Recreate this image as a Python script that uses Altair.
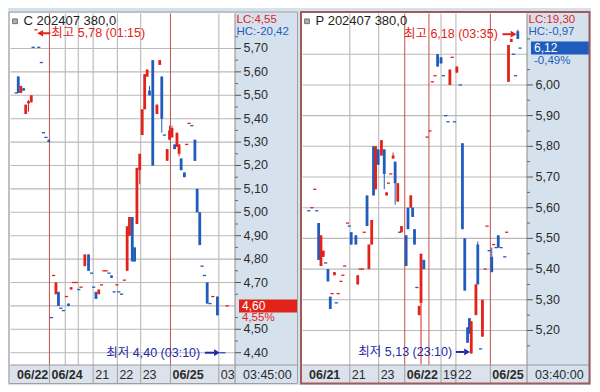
import altair as alt
import pandas as pd

# ---------------- data ----------------
# Left panel: C 202407 380,0
left_pos = [3.3, 5.5, 8.3, 11.3, 13.5, 16.5, 19.5, 21.5, 24.5, 27.5,
            30.3, 32.5, 35.3, 38.3, 41, 43.5, 46, 48.7, 51.3, 54,
            57.3, 59.5, 62.3, 65, 68, 70.5, 73, 77, 81, 84.3,
            86.5, 89, 92, 95, 97.5, 100, 103, 105.7, 108.5, 111.5,
            113.5, 116.5, 119.5, 122.5, 125, 128, 130.5, 133, 136, 138.7,
            141.3, 144, 146.5, 150, 154.5, 157.5, 159.7, 162.5, 165.5, 168,
            170.7, 173.5, 176, 178.3, 180.5, 184, 186.5, 189, 192, 195.3,
            197.7, 200.5, 203, 205.5, 208.5, 211.5, 214.5, 219.5, 223.5, 226.5,
            230]
left_open = [5.51, 5.58, 5.51, 5.53, 5.42, 5.465, 5.47, 5.705, 5.78, 5.705,
             5.64, 5.34, 5.32, 5.31, 4.55, 4.73, 4.65, 4.66, 4.59, 4.58,
             4.64, 4.61, 4.67, 4.70, 4.70, 4.67, 4.68, 4.77, 4.82, 4.74,
             4.68, 4.66, 4.65, 4.69, 4.75, 4.75, 4.74, 4.73, 4.66, 4.69,
             4.66, 4.65, 4.71, 4.75, 4.90, 4.98, 4.85, 4.95, 5.18, 5.33,
             5.44, 5.58, 5.52, 5.65, 5.42, 5.63, 5.58, 5.33, 5.22, 5.31,
             5.32, 5.29, 5.28, 5.25, 5.23, 5.17, 5.29, 5.38, 5.37, 5.31,
             5.10, 5.00, 4.77, 4.73, 4.70, 4.61, 4.64, 4.64, 4.40, 4.40,
             4.60]
left_high = [5.51, 5.58, 5.54, 5.53, 5.46, 5.48, 5.50, 5.705, 5.78, 5.705,
             5.64, 5.34, 5.32, 5.31, 4.55, 4.73, 4.70, 4.66, 4.59, 4.58,
             4.64, 4.61, 4.68, 4.70, 4.70, 4.67, 4.68, 4.82, 4.82, 4.74,
             4.68, 4.66, 4.67, 4.69, 4.75, 4.75, 4.74, 4.73, 4.66, 4.69,
             4.66, 4.65, 4.71, 4.94, 4.98, 4.98, 4.85, 5.19, 5.25, 5.44,
             5.59, 5.61, 5.54, 5.65, 5.46, 5.65, 5.58, 5.33, 5.27, 5.37,
             5.37, 5.29, 5.34, 5.29, 5.23, 5.17, 5.29, 5.38, 5.37, 5.31,
             5.10, 5.00, 4.77, 4.73, 4.70, 4.61, 4.64, 4.64, 4.40, 4.40,
             4.60]
left_low = [5.51, 5.51, 5.51, 5.52, 5.42, 5.43, 5.47, 5.705, 5.78, 5.705,
            5.64, 5.34, 5.32, 5.30, 4.55, 4.73, 4.65, 4.60, 4.59, 4.58,
            4.64, 4.60, 4.67, 4.70, 4.70, 4.67, 4.68, 4.77, 4.75, 4.74,
            4.68, 4.63, 4.65, 4.69, 4.75, 4.75, 4.74, 4.72, 4.66, 4.69,
            4.66, 4.65, 4.71, 4.75, 4.90, 4.79, 4.79, 4.95, 5.12, 5.33,
            5.44, 5.58, 5.50, 5.20, 5.42, 5.63, 5.34, 5.33, 5.22, 5.31,
            5.32, 5.27, 5.28, 5.24, 5.18, 5.15, 5.29, 5.38, 5.37, 5.22,
            5.00, 4.86, 4.77, 4.73, 4.61, 4.61, 4.64, 4.56, 4.40, 4.40,
            4.60]
left_close = [5.51, 5.51, 5.54, 5.52, 5.46, 5.475, 5.50, 5.705, 5.78, 5.705,
              5.64, 5.34, 5.32, 5.30, 4.55, 4.73, 4.70, 4.60, 4.59, 4.58,
              4.64, 4.60, 4.68, 4.70, 4.70, 4.67, 4.68, 4.82, 4.75, 4.74,
              4.68, 4.63, 4.67, 4.69, 4.75, 4.75, 4.74, 4.72, 4.66, 4.69,
              4.66, 4.65, 4.71, 4.94, 4.98, 4.79, 4.79, 5.19, 5.25, 5.44,
              5.59, 5.61, 5.50, 5.20, 5.46, 5.65, 5.40, 5.33, 5.27, 5.35,
              5.36, 5.27, 5.34, 5.29, 5.18, 5.15, 5.29, 5.38, 5.37, 5.22,
              5.00, 4.86, 4.77, 4.73, 4.61, 4.61, 4.64, 4.56, 4.40, 4.40,
              4.60]
left_dir = list("BBRBRRRBRB" "BBBBBRRBBB" "RBRRRBRRBB" "BBRRRRBBBR" "BBRRRBBRRR"
                "RRBBRRBBRR" "RBRRBBRRBB" "BBBBBBRBBB" "R")

# Right panel: P 202407 380,0
right_pos = [304, 307.3, 310.3, 312.5, 314.5, 317, 319.5, 322, 324.5, 327,
             329, 331.5, 333.5, 335.5, 338.5, 340.5, 342.5, 345.5, 347.5, 349.5,
             354.5, 356.5, 359.3, 361.7, 363.5, 366.5, 368.5, 371.5, 373.5, 375.7,
             378.5, 382, 385, 387.5, 389.5, 392, 394.5, 396.7, 399.5, 401.5,
             403.5, 408.5, 410.5, 413.5, 415.5, 417.5, 420, 422.5, 424.5, 427.5,
             431, 434, 436.7, 439.5, 442.3, 446, 448.5, 451, 453.5, 455.5,
             458, 460.5, 463, 466.7, 469, 471.5, 474.5, 476.5, 478.5, 483.5,
             485.5, 488.5, 490.5, 493.5, 495.5, 497.7, 500.5, 502.5, 505, 507.5,
             510.5, 514.5, 516.5, 518.5, 521.5, 524, 526, 528.5, 531]
right_open = [5.59, 5.60, 5.66, 5.59, 5.55, 5.41, 5.44, 5.42, 5.40, 5.31,
              5.32, 5.38, 5.29, 5.32, 5.36, 5.38, 5.41, 5.55, 5.54, 5.52,
              5.51, 5.35, 5.40, 5.40, 5.52, 5.64, 5.40, 5.48, 5.80, 5.66,
              5.79, 5.77, 5.79, 5.64, 5.68, 5.71, 5.76, 5.75, 5.62, 5.52,
              5.52, 5.51, 5.60, 5.60, 5.60, 5.53, 5.34, 5.25, 5.29, 5.43,
              5.83, 5.85, 6.01, 6.03, 6.10, 6.09, 6.03, 5.90, 5.88, 6.00,
              6.09, 5.88, 6.04, 6.00, 5.81, 5.50, 5.21, 5.24, 5.125, 5.25,
              5.48, 5.14, 5.18, 5.40, 5.54, 5.46, 5.44, 5.48, 5.47, 5.51,
              5.47, 5.44, 5.52, 6.01, 6.14, 6.10, 6.03, 6.175, 6.12]
right_high = [5.59, 5.60, 5.66, 5.59, 5.55, 5.51, 5.46, 5.42, 5.40, 5.31,
              5.32, 5.39, 5.29, 5.32, 5.36, 5.38, 5.41, 5.55, 5.54, 5.52,
              5.51, 5.38, 5.40, 5.40, 5.52, 5.64, 5.48, 5.56, 5.80, 5.80,
              5.79, 5.82, 5.79, 5.65, 5.68, 5.71, 5.78, 5.75, 5.68, 5.52,
              5.54, 5.51, 5.60, 5.64, 5.60, 5.53, 5.34, 5.28, 5.45, 5.43,
              5.83, 5.85, 6.01, 6.03, 6.10, 6.09, 6.03, 5.90, 5.88, 6.05,
              6.09, 5.88, 6.06, 6.00, 5.81, 5.50, 5.21, 5.24, 5.23, 5.35,
              5.49, 5.14, 5.30, 5.40, 5.54, 5.46, 5.47, 5.48, 5.47, 5.51,
              5.47, 5.44, 5.52, 6.13, 6.15, 6.10, 6.03, 6.18, 6.12]
right_low = [5.59, 5.60, 5.66, 5.59, 5.43, 5.41, 5.44, 5.42, 5.36, 5.27,
             5.32, 5.38, 5.29, 5.32, 5.36, 5.38, 5.41, 5.55, 5.54, 5.48,
             5.48, 5.35, 5.40, 5.40, 5.52, 5.54, 5.40, 5.48, 5.64, 5.66,
             5.74, 5.77, 5.66, 5.64, 5.68, 5.71, 5.76, 5.61, 5.62, 5.52,
             5.52, 5.41, 5.53, 5.60, 5.57, 5.48, 5.34, 5.25, 5.09, 5.40,
             5.83, 5.85, 6.01, 6.03, 6.06, 6.07, 6.03, 5.90, 5.88, 6.00,
             6.09, 5.88, 6.04, 6.00, 5.53, 5.33, 5.16, 5.19, 5.125, 5.25,
             5.35, 5.14, 5.18, 5.40, 5.54, 5.46, 5.39, 5.48, 5.47, 5.47,
             5.47, 5.44, 5.52, 6.01, 6.14, 6.10, 6.03, 6.15, 6.12]
right_close = [5.59, 5.60, 5.66, 5.59, 5.43, 5.51, 5.46, 5.42, 5.36, 5.27,
               5.32, 5.39, 5.29, 5.32, 5.36, 5.38, 5.41, 5.55, 5.54, 5.48,
               5.48, 5.38, 5.40, 5.40, 5.52, 5.54, 5.48, 5.56, 5.64, 5.80,
               5.74, 5.82, 5.71, 5.65, 5.68, 5.71, 5.77, 5.68, 5.68, 5.52,
               5.54, 5.41, 5.53, 5.64, 5.57, 5.48, 5.34, 5.28, 5.45, 5.40,
               5.83, 5.85, 6.01, 6.03, 6.06, 6.07, 6.03, 5.90, 5.88, 6.05,
               6.09, 5.88, 6.06, 6.00, 5.53, 5.33, 5.16, 5.19, 5.23, 5.35,
               5.35, 5.14, 5.30, 5.40, 5.54, 5.46, 5.39, 5.48, 5.47, 5.47,
               5.47, 5.44, 5.52, 6.13, 6.15, 6.10, 6.03, 6.15, 6.12]
right_dir = list("BRRBBRRBBB" "RRBRRRRRBB" "BRRRRBRRBR" "BRBRRRRBRB" "RBBRBBBRRB"
                 "RRRRBBBBBR" "RBRBBBBBRR" "BBRRRBBRBB" "BBRRRBBBB")

# grid / y tick values and labels
left_grid = [4.4, 4.5, 4.6, 4.7, 4.8, 4.9, 5.0, 5.1, 5.2, 5.3, 5.4, 5.5, 5.6, 5.7]
left_ticks = [4.4, 4.5, 4.7, 4.8, 4.9, 5.0, 5.1, 5.2, 5.3, 5.4, 5.5, 5.6, 5.7]
left_tick_labels = ["4,40", "4,50", "4,70", "4,80", "4,90", "5,00", "5,10", "5,20",
                    "5,30", "5,40", "5,50", "5,60", "5,70"]
left_minor = [4.45, 4.55, 4.65, 4.75, 4.85, 4.95, 5.05, 5.15, 5.25, 5.35, 5.45, 5.55, 5.65, 5.75]
right_grid = [5.2, 5.3, 5.4, 5.5, 5.6, 5.7, 5.8, 5.9, 6.0, 6.1]
right_ticks = [5.2, 5.3, 5.4, 5.5, 5.6, 5.7, 5.8, 5.9, 6.0]
right_tick_labels = ["5,20", "5,30", "5,40", "5,50", "5,60", "5,70", "5,80", "5,90", "6,00"]
right_minor = [5.15, 5.25, 5.35, 5.45, 5.55, 5.65, 5.75, 5.85, 5.95, 6.05, 6.15]

left_vgrid = [56, 70, 86, 112, 137, 221]
left_vdate = [39, 169]
left_seps = [39, 86, 112, 137, 169, 221]
left_xlab_pos = [86, 112, 137, 221]
left_xlab = ["21", "22", "23", "03"]
left_xdate_pos = [2, 39, 169]
left_xdate = ["06/22", "06/24", "06/25"]

right_vgrid = [348, 379, 446, 462]
right_vdate = [407, 433, 499]
right_seps = [348, 379, 407, 446, 462, 499]
right_xlab_pos = [348, 379, 446, 462]
right_xlab = ["21", "23", "19", "22"]
right_xdate_pos = [302, 407, 499]
right_xdate = ["06/21", "06/22", "06/25"]

# ---------------- styling ----------------
W, H = 225, 352
XB = 18
RED = "#e2231a"
BLUE = "#1f5cbc"
NAVY = "#1f2aa8"
GRID = "#b9b9b9"
DATE = "#c0504d"
AXBG = "#d6e1ee"
XBG = "#dbe2eb"
DARK = "#2b2b2b"
FONT = "Liberation Sans, Noto Sans CJK KR, sans-serif"


def one(**kw):
    return alt.Chart(pd.DataFrame({k: [v] for k, v in kw.items()}))


def panel(pos, o, h, l, c, d, x0, ylo, yhi, grid, ticks, tick_labels, minor, vgrid, vdate, seps,
          xl_pos, xl, xd_pos, xd, anns, title, lc, hc, clock, last, pct, boxcol,
          pct_dy, frame_col, frame_w):
    df = pd.DataFrame({"pos": pos, "o": o, "h": h, "l": l, "c": c, "d": d})
    xs = alt.Scale(domain=[x0, x0 + 231], nice=False, zero=False)
    ys = alt.Scale(domain=[ylo, yhi], nice=False, zero=False)
    X = lambda f: alt.X(f, type="quantitative", scale=xs, axis=None)
    Y = lambda f: alt.Y(f, type="quantitative", scale=ys, axis=None)
    col = alt.Color("d:N", scale=alt.Scale(domain=["R", "B"], range=[RED, BLUE]), legend=None)

    layers = []
    # plot background (white) and x-axis bar background
    layers.append(one(a=0).mark_rect(fill="white", opacity=1).encode(
        x=alt.value(0.01), x2=alt.value(W), y=alt.value(0.01), y2=alt.value(H)))
    layers.append(one(a=0).mark_rect(fill=XBG).encode(
        x=alt.value(0.01), x2=alt.value(W), y=alt.value(H), y2=alt.value(H + XB)))
    # horizontal grid
    layers.append(alt.Chart(pd.DataFrame({"g": grid})).mark_rule(
        color=GRID, strokeWidth=1.1).encode(
        y=Y("g"), x=alt.value(W), x2=alt.value(0.5)))
    # vertical grid
    layers.append(alt.Chart(pd.DataFrame({"p": vgrid})).mark_rule(
        color=GRID, strokeWidth=1.1).encode(
        x=X("p"), y=alt.value(0.5), y2=alt.value(H)))
    layers.append(alt.Chart(pd.DataFrame({"p": vdate})).mark_rule(color=DATE).encode(
        x=X("p"), y=alt.value(0.5), y2=alt.value(H)))
    # x bar separators and labels
    layers.append(alt.Chart(pd.DataFrame({"p": seps})).mark_rule(color="#9aa3ad").encode(
        x=X("p"), y=alt.value(H), y2=alt.value(H + XB)))
    layers.append(alt.Chart(pd.DataFrame({"p": xl_pos, "t": xl})).mark_text(
        align="left", baseline="middle", dx=2, font=FONT, fontSize=12.5, color=DARK).encode(
        x=X("p"), y=alt.value(H + XB / 2 + 0.5), text="t:N"))
    layers.append(alt.Chart(pd.DataFrame({"p": xd_pos, "t": xd})).mark_text(
        align="left", baseline="middle", dx=2, font=FONT, fontSize=12.5, fontWeight="bold",
        color=DARK).encode(x=X("p"), y=alt.value(H + XB / 2 + 0.5), text="t:N"))
    # candles
    base = alt.Chart(df)
    layers.append(base.mark_rule(strokeWidth=1, clip=True).encode(
        x=X("pos"), y=Y("l"), y2="h:Q", color=col))
    layers.append(base.transform_filter("datum.o != datum.c").mark_bar(size=2.8, clip=True).encode(
        x=X("pos"), y=Y("o"), y2="c:Q", color=col))
    layers.append(base.transform_filter("datum.o == datum.c").mark_tick(
        orient="horizontal", size=3.2, thickness=1.3, clip=True, opacity=1).encode(
        x=X("pos"), y=Y("o"), color=col))
    # high / low annotations
    for a in anns:
        s = a["side"]
        dy = a["dy"]
        adf = one(pos=a["pos"], price=a["price"], t=a["text"]).transform_calculate(
            tip=f"datum.pos + ({s}) * 1.5").transform_calculate(
            tri=f"datum.tip + ({s}) * 3", l1=f"datum.tip + ({s}) * 6",
            l2=f"datum.tip + ({s}) * {a['lend']}", tx=f"datum.tip + ({s}) * {a['toff']}")
        layers.append(adf.mark_rule(color=a["color"], strokeWidth=2, yOffset=dy).encode(
            x=X("l1"), x2="l2:Q", y=Y("price")))
        layers.append(adf.mark_point(shape="triangle-left" if s > 0 else "triangle-right",
                                     filled=True, size=45, color=a["color"], opacity=1,
                                     yOffset=dy).encode(x=X("tri"), y=Y("price")))
        layers.append(adf.mark_text(align="left" if s > 0 else "right", baseline="middle",
                                    font=FONT, fontSize=12.5, color=a["color"], dy=dy).encode(
            x=X("tx"), y=Y("price"), text="t:N"))
    # price axis on the right (domain line, ticks, labels)
    layers.append(one(a=0).mark_rule(color="#8c8c8c").encode(
        x=alt.value(W), y=alt.value(0.5), y2=alt.value(H + XB)))
    tdf = alt.Chart(pd.DataFrame({"v": ticks, "t": tick_labels}))
    layers.append(tdf.mark_rule(color="#555555").encode(
        y=Y("v"), x=alt.value(W), x2=alt.value(W + 6)))
    layers.append(tdf.mark_text(align="left", baseline="middle", font=FONT, fontSize=12.5,
                                color=DARK).encode(x=alt.value(W + 8.5), y=Y("v"), text="t:N"))
    layers.append(alt.Chart(pd.DataFrame({"m": minor})).mark_rule(color="#666666").encode(
        y=Y("m"), x=alt.value(W), x2=alt.value(W + 3)))
    layers.append(one(a=0).mark_rule(color="#9a9a9a").encode(
        x=alt.value(W + 62), x2=alt.value(0.5), y=alt.value(H)))
    layers.append(one(t=lc).mark_text(align="left", baseline="middle", font=FONT, fontSize=11.5,
                                      color=RED).encode(x=alt.value(W + 1.5), y=alt.value(6.8), text="t:N"))
    layers.append(one(t=hc).mark_text(align="left", baseline="middle", font=FONT, fontSize=11.5,
                                      color=BLUE).encode(x=alt.value(W + 1.5), y=alt.value(19.4), text="t:N"))
    layers.append(one(t=clock).mark_text(align="left", baseline="middle", font=FONT, fontSize=12.5,
                                         color=DARK).encode(x=alt.value(W + 8), y=alt.value(H + XB / 2 + 0.5), text="t:N"))
    lastdf = one(v=last, t=f"{last:.2f}".replace(".", ","), p=pct)
    layers.append(lastdf.mark_rect(color=boxcol, opacity=1, yOffset=-6.5, y2Offset=6.5).encode(
        x=alt.value(W + 4), x2=alt.value(W + 62), y=Y("v"), y2="v:Q"))
    layers.append(lastdf.mark_text(align="left", baseline="middle", font=FONT, fontSize=12,
                                   color="white").encode(x=alt.value(W + 7), y=Y("v"), text="t:N"))
    layers.append(lastdf.mark_text(align="left", baseline="middle", font=FONT, fontSize=11.5,
                                   color=boxcol, dy=pct_dy).encode(x=alt.value(W + 7), y=Y("v"), text="p:N"))
    # title
    layers.append(one(a=0).mark_square(size=22, fill="#b0b0b0", stroke="#707070", strokeWidth=1,
                                       opacity=1).encode(x=alt.value(5), y=alt.value(8.3)))
    layers.append(one(t=title).mark_text(align="left", baseline="middle", font=FONT, fontSize=13,
                                         color="#1e1e1e").encode(x=alt.value(13.6), y=alt.value(8.3), text="t:N"))
    # frame
    layers.append(one(a=0).mark_rect(fillOpacity=0, stroke=frame_col, strokeWidth=frame_w).encode(
        x=alt.value(-1), x2=alt.value(W + 62.5), y=alt.value(-1), y2=alt.value(H + XB + 0.5)))
    return alt.layer(*layers).properties(width=W, height=H)


left = panel(left_pos, left_open, left_high, left_low, left_close, left_dir,
             2, 4.3475, 5.8516, left_grid, left_ticks, left_tick_labels, left_minor,
             left_vgrid, left_vdate, left_seps, left_xlab_pos, left_xlab, left_xdate_pos, left_xdate,
             [dict(pos=24.5, price=5.78, text="최고 5,78 (01:15)", side=1, lend=14, toff=15, color=RED, dy=3.5),
              dict(pos=223.5, price=4.40, text="최저 4,40 (03:10)", side=-1, lend=16, toff=21, color=NAVY, dy=0)],
             "C 202407 380,0", "LC:4,55", "HC:-20,42", "03:45:00", 4.60, "4,55%", RED, 12.5,
             "#a0a0a0", 1)
right = panel(right_pos, right_open, right_high, right_low, right_close, right_dir,
              302, 5.0875, 6.2344, right_grid, right_ticks, right_tick_labels, right_minor,
              right_vgrid, right_vdate, right_seps, right_xlab_pos, right_xlab, right_xdate_pos, right_xdate,
              [dict(pos=528.5, price=6.18, text="최고 6,18 (03:35)", side=-1, lend=15, toff=20, color=RED, dy=4.5),
               dict(pos=478.5, price=5.13, text="최저 5,13 (23:10)", side=-1, lend=15, toff=19, color=NAVY, dy=0)],
              "P 202407 380,0", "LC:19,30", "HC:-0,97", "03:40:00", 6.12, "-0,49%", BLUE, 12.5,
              "#a05a5a", 2)

chart = alt.hconcat(left, right, spacing=67, bounds="flush").properties(
    padding={"left": 0, "top": 2, "right": 0, "bottom": 0},
    background=AXBG
).configure_view(stroke="transparent")

chart.save("out.html", embed_options={"renderer": "svg", "actions": False})
